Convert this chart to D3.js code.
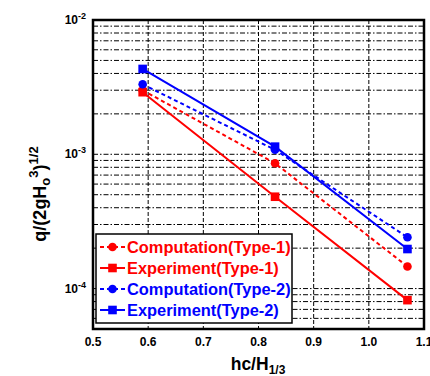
<!DOCTYPE html>
<html><head><meta charset="utf-8">
<script src="https://cdn.jsdelivr.net/npm/d3@7"></script>
<style>
html,body{margin:0;padding:0;background:#fff;}
svg{display:block;font-family:"Liberation Sans",Arial,sans-serif;font-weight:bold;}
</style></head>
<body>
<svg id="chart" width="430" height="376"></svg>
<script>
const xValues = [0.59, 0.83, 1.07];
const compType1 = [3.0e-3, 8.57e-4, 1.46e-4];
const expType1 = [2.9e-3, 4.83e-4, 8.2e-5];
const compType2 = [3.32e-3, 1.08e-3, 2.41e-4];
const expType2 = [4.32e-3, 1.14e-3, 1.97e-4];
const seriesNames = ["Computation(Type-1)", "Experiment(Type-1)", "Computation(Type-2)", "Experiment(Type-2)"];
const xTicks = [0.5, 0.6, 0.7, 0.8, 0.9, 1.0, 1.1];
const xTickLabels = ["0.5", "0.6", "0.7", "0.8", "0.9", "1.0", "1.1"];
const yMajor = [1e-4, 1e-3, 1e-2];
const yMajorExp = ["-4", "-3", "-2"];

const series = [
  {name: seriesNames[0], values: compType1, color: "#ff0000", dashed: true, marker: "circle"},
  {name: seriesNames[1], values: expType1, color: "#ff0000", dashed: false, marker: "square"},
  {name: seriesNames[2], values: compType2, color: "#0000ff", dashed: true, marker: "circle"},
  {name: seriesNames[3], values: expType2, color: "#0000ff", dashed: false, marker: "square"}
];

const svg = d3.select("#chart");
const L = 93, R = 424, T = 20, B = 329;
const x = d3.scaleLinear().domain([0.5, 1.1]).range([L, R]);
const y = d3.scaleLog().domain([5e-5, 1e-2]).range([B, T]);

const minor = [];
for (let e = -5; e <= -3; e++) for (let m = 1; m <= 9; m++) {
  const v = m * Math.pow(10, e);
  if (v > 5e-5 * 1.0001 && v < 1e-2 * 0.9999) minor.push(v);
}
const grid = svg.append("g");
grid.selectAll("line.h").data(minor).enter().append("line")
  .attr("x1", L).attr("x2", R)
  .attr("y1", d => y(d)).attr("y2", d => y(d))
  .attr("stroke", "#000").attr("stroke-width", 1)
  .attr("stroke-dasharray", "5,2,1.5,2");
grid.selectAll("line.v").data(xTicks.slice(1, -1)).enter().append("line")
  .attr("x1", d => x(d)).attr("x2", d => x(d))
  .attr("y1", T).attr("y2", B)
  .attr("stroke", "#000").attr("stroke-width", 1)
  .attr("stroke-dasharray", "4,2");

const line = d3.line().x((d, i) => x(xValues[i])).y(d => y(d));
series.forEach(s => {
  svg.append("path").attr("d", line(s.values))
    .attr("fill", "none").attr("stroke", s.color).attr("stroke-width", 2)
    .attr("stroke-dasharray", s.dashed ? "4,3" : null);
});
function drawMarker(g, type, cx, cy, color) {
  if (type === "circle") {
    g.append("circle").attr("cx", cx).attr("cy", cy).attr("r", 4.3).attr("fill", color);
  } else {
    g.append("rect").attr("x", cx - 4.3).attr("y", cy - 4.3).attr("width", 8.6).attr("height", 8.6).attr("fill", color);
  }
}
series.forEach(s => {
  const g = svg.append("g");
  s.values.forEach((v, i) => drawMarker(g, s.marker, x(xValues[i]), y(v), s.color));
});

svg.append("rect").attr("x", L).attr("y", T).attr("width", R - L).attr("height", B - T)
  .attr("fill", "none").attr("stroke", "#000").attr("stroke-width", 2.5);

svg.append("g").selectAll("text").data(xTicks).enter().append("text")
  .attr("x", d => x(d)).attr("y", 346)
  .attr("text-anchor", "middle").attr("font-size", 12)
  .text((d, i) => xTickLabels[i]);

const yl = svg.append("g");
yMajor.forEach((v, i) => {
  const t = yl.append("text").attr("x", 86).attr("y", y(v) + 4)
    .attr("text-anchor", "end").attr("font-size", 12);
  t.append("tspan").text("10");
  t.append("tspan").attr("dy", -5).attr("font-size", 9).text(yMajorExp[i]);
});

const xt = svg.append("text").attr("x", 258).attr("y", 370).attr("text-anchor", "middle").attr("font-size", 17.5);
xt.append("tspan").text("hc/H");
xt.append("tspan").attr("dy", 4).attr("font-size", 12).text("1/3");

const ytl = svg.append("text").attr("transform", "translate(46,194) rotate(-90)")
  .attr("text-anchor", "middle").attr("font-size", 18);
ytl.append("tspan").text("q/(2gH");
ytl.append("tspan").attr("dy", 4).attr("font-size", 13).text("o");
ytl.append("tspan").attr("dy", -12).attr("font-size", 13).text("3");
ytl.append("tspan").attr("dy", 8).text(")");
ytl.append("tspan").attr("dy", -8).attr("font-size", 13).text("1/2");

const lg = svg.append("g");
lg.append("rect").attr("x", 96).attr("y", 234).attr("width", 196).attr("height", 89)
  .attr("fill", "#fff").attr("stroke", "#000").attr("stroke-width", 1.5);
series.forEach((s, i) => {
  const cy = 247 + i * 21;
  lg.append("line").attr("x1", 100).attr("x2", 125).attr("y1", cy).attr("y2", cy)
    .attr("stroke", s.color).attr("stroke-width", 2)
    .attr("stroke-dasharray", s.dashed ? "4,3" : null);
  drawMarker(lg, s.marker, 112.5, cy, s.color);
  lg.append("text").attr("x", 127).attr("y", cy + 6).attr("font-size", 16.4)
    .attr("fill", s.color).text(s.name);
});
</script>
</body></html>
